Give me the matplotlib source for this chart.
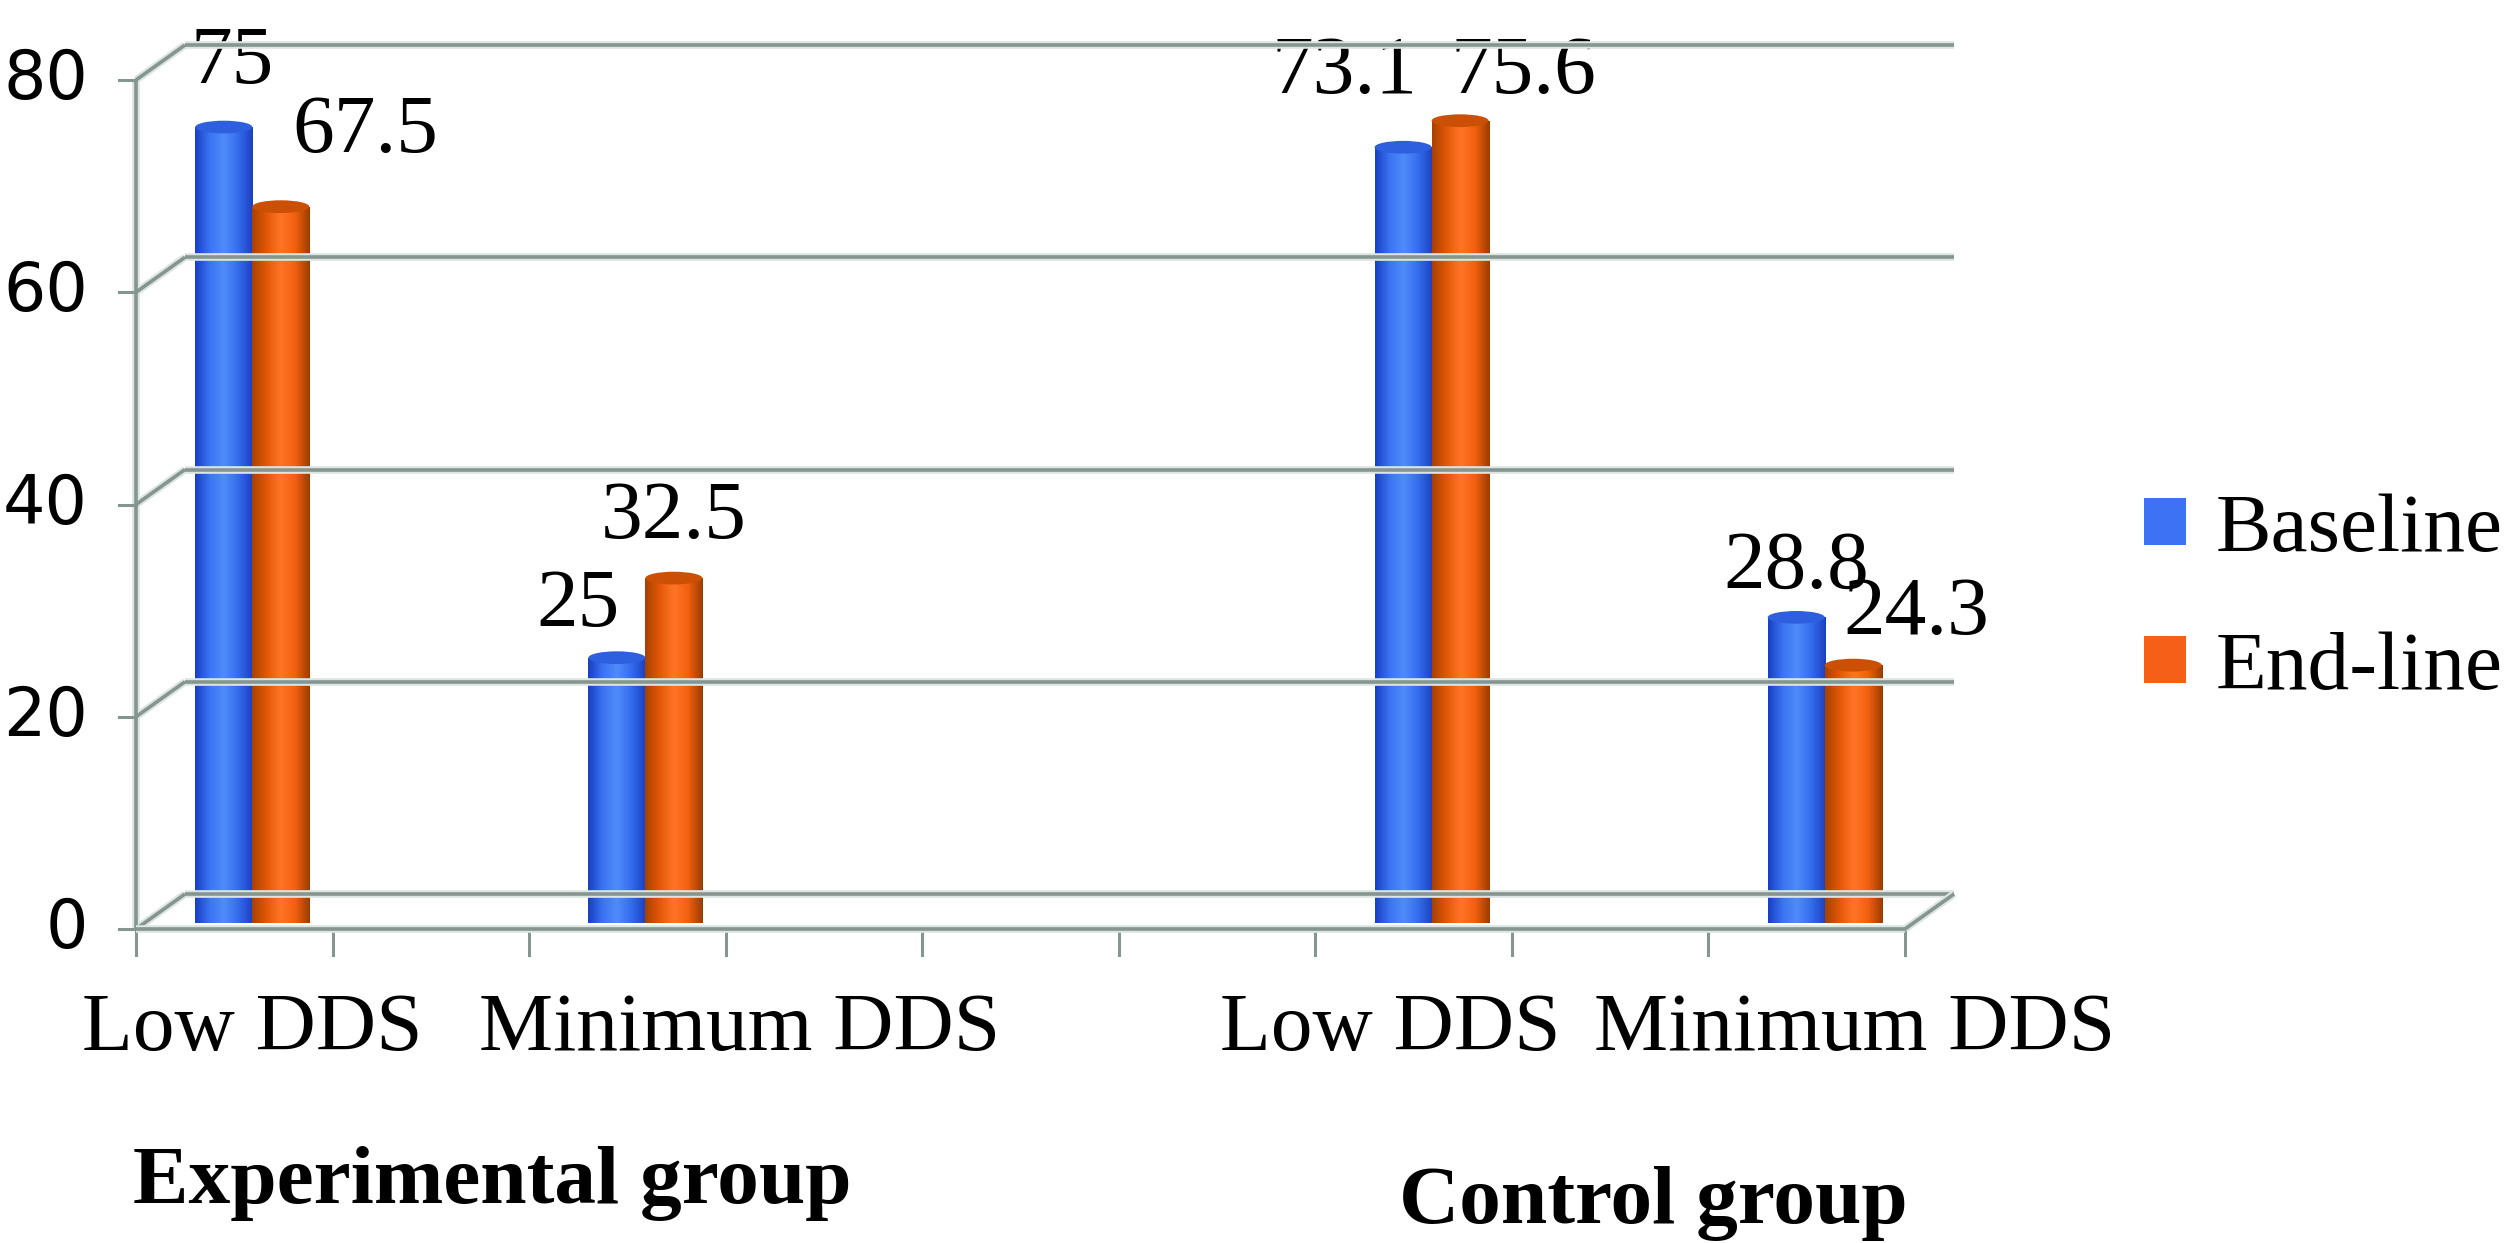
import matplotlib
matplotlib.use('Agg')
import matplotlib.pyplot as plt
import numpy as np
from matplotlib.colors import LinearSegmentedColormap
from matplotlib.patches import Ellipse, Patch
from matplotlib.lines import Line2D
from matplotlib.transforms import IdentityTransform

# ---- data ----
n_slots = 9
cat_pos = [0, 2, 6, 8]
cat_labels = ['Low DDS', 'Minimum DDS', 'Low DDS', 'Minimum DDS']
groups = ['Experimental group', 'Control group']
series = ['Baseline', 'End-line']
baseline = [75, 25, 73.1, 28.8]
endline = [67.5, 32.5, 75.6, 24.3]
yticks = [0, 20, 40, 60, 80]

# label placement (manual boxes in the original)
base_off = [(0.04, 6.0), (-0.2, 4.8), (-0.3, 7.0), (0.0, 4.6)]
end_off = [(0.43, 7.0), (0.0, 5.6), (0.32, 4.5), (0.32, 4.8)]
cat_dx = [0.0, 0.48, -0.21, 0.15]
group_xy = [(1.72, -24.5), (7.63, -26.4)]

blue_cmap = LinearSegmentedColormap.from_list('b', ['#1a3fc4', '#3a74f2', '#4f8cfa', '#346ded', '#1c40c2'])
orange_cmap = LinearSegmentedColormap.from_list('o', ['#a84200', '#e35808', '#ff7426', '#f2600f', '#9c3d00'])
blue = '#3d72f5'
orange = '#f65f17'
grid_c = '#85958f'
halo_c = '#dde5e2'

serif = 'Liberation Serif'
fs = 60

fig = plt.figure(figsize=(25.04, 12.43), dpi=100)
ax = fig.add_axes([154 / 2504, 320 / 1243, 1769 / 2504, 849 / 1243])
ax.set_axis_off()

# ---- bars ----
w = 0.29
xs = np.array(cat_pos) + 0.5
for vals, off, cmap, col in [(baseline, -w / 2, blue_cmap, blue), (endline, w / 2, orange_cmap, orange)]:
    bc = ax.bar(xs + off, vals, w, color=col, zorder=3, linewidth=0)
    grad = np.linspace(0, 1, 64).reshape(1, -1)
    for p, v in zip(bc.patches, vals):
        x0 = p.get_x()
        im = ax.imshow(grad, cmap=cmap, extent=[x0, x0 + w, 0, v], aspect='auto', zorder=3.1)
        im.set_clip_path(p)
        ax.add_patch(Ellipse((x0 + w / 2, v), w, 1.2, fc=cmap(0.15), ec='none', zorder=3.2))
        ax.add_patch(Ellipse((x0 + w / 2, 0), w, 1.2, fc=cmap(0.5), ec='none', zorder=3.0))

ax.set_xlim(0, n_slots)
ax.set_ylim(0, 80)

# ---- value labels ----
for vals, offs, x_shift in [(baseline, base_off, -w / 2), (endline, end_off, w / 2)]:
    for x, v, (dx, dy) in zip(xs, vals, offs):
        ax.text(x + x_shift + dx, v + dy, f'{v:g}', ha='center', va='center',
                family=serif, fontsize=fs, zorder=5, clip_on=False)

# ---- 3d frame ----
DEPTH = (49, 35)
FRONT = (-18, -6)


def to_px(x, y, d):
    px, py = ax.transData.transform((x, y))
    return px + FRONT[0] + d * DEPTH[0], py + FRONT[1] + d * DEPTH[1]


def frame_line(pts, z=1, halo=True):
    xy = np.array([to_px(*p) for p in pts])
    if halo:
        fig.add_artist(Line2D(xy[:, 0], xy[:, 1], transform=IdentityTransform(),
                              color=halo_c, lw=5.5, zorder=z, solid_capstyle='butt'))
    fig.add_artist(Line2D(xy[:, 0], xy[:, 1], transform=IdentityTransform(),
                          color=grid_c, lw=2.6, zorder=z + 0.1, solid_capstyle='butt'))


for t in yticks:
    frame_line([(0, t, 1), (n_slots, t, 1)])
    frame_line([(0, t, 0), (0, t, 1)])
    # y tick marks
    px, py = to_px(0, t, 0)
    fig.add_artist(Line2D([px - 17, px], [py, py], transform=IdentityTransform(),
                          color=grid_c, lw=2.2))
    fig.text((px - 48) / 2504, py / 1243, str(t), ha='right', va='center',
             fontsize=48, family='DejaVu Sans')

frame_line([(0, 0, 0), (0, 80, 0)])
frame_line([(0, 0, 0), (n_slots, 0, 0)], z=4)
frame_line([(n_slots, 0, 0), (n_slots, 0, 1)], z=4)
for i in range(n_slots + 1):
    px, py = to_px(i, 0, 0)
    fig.add_artist(Line2D([px, px], [py, py - 26], transform=IdentityTransform(),
                          color=grid_c, lw=2.2))

# ---- category and group labels ----
for p, lab, dx in zip(cat_pos, cat_labels, cat_dx):
    ax.text(p + 0.5 + dx, -10.1, lab, ha='center', va='center',
            family=serif, fontsize=fs, clip_on=False)
for g, (gx, gy) in zip(groups, group_xy):
    ax.text(gx, gy, g, ha='center', va='center', family=serif,
            fontweight='bold', fontsize=fs, clip_on=False)

# ---- legend ----
handles = [Patch(fc=blue), Patch(fc=orange)]
fig.legend(handles, series, loc='upper left', bbox_to_anchor=(2144 / 2504, 0.603),
           frameon=False, handlelength=0.5, handleheight=0.5, handletextpad=0.36,
           labelspacing=0.75, borderpad=0, borderaxespad=0,
           prop={'family': serif, 'size': 60})

fig.savefig('out.png', dpi=100)
